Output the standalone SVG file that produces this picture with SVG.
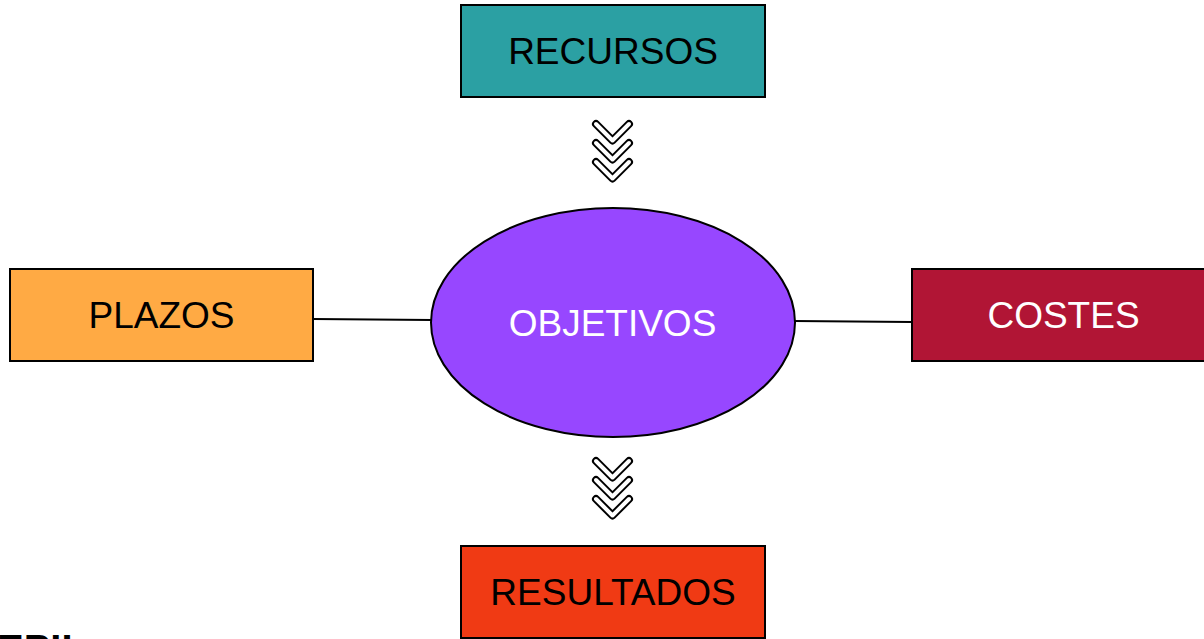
<svg xmlns="http://www.w3.org/2000/svg" width="1204" height="639" viewBox="0 0 1204 639">
<style>
.box{stroke:#000;stroke-width:2}
.lbl{font-family:"Liberation Sans",Arial,sans-serif;font-size:37px;text-anchor:middle}
.chev-o{fill:none;stroke:#000;stroke-width:8;stroke-linecap:round;stroke-linejoin:round}
.chev-i{fill:none;stroke:#fff;stroke-width:4;stroke-linecap:round;stroke-linejoin:round}
.conn{stroke:#000;stroke-width:2;fill:none}
</style>
<defs>
<g id="chev">
<polyline class="chev-o" points="-16.5,0 0,16.5 16.5,0"/>
<polyline class="chev-i" points="-16.5,0 0,16.5 16.5,0"/>
</g>
<g id="chevs">
<use href="#chev" x="0" y="0"/>
<use href="#chev" x="0" y="19"/>
<use href="#chev" x="0" y="38"/>
</g>
</defs>
<rect width="1204" height="639" fill="#fff"/>
<g id="connectors">
<line class="conn" x1="313" y1="319" x2="432" y2="320"/>
<line class="conn" x1="794" y1="321" x2="912" y2="322"/>
<use href="#chevs" x="612.5" y="124"/>
<use href="#chevs" x="612.5" y="461"/>
</g>
<g id="recursos">
<rect class="box" x="461" y="5" width="304" height="92" fill="#2BA0A3"/>
<text class="lbl" x="613" y="64" fill="#000">RECURSOS</text>
</g>
<g id="plazos">
<rect class="box" x="10" y="269" width="303" height="92" fill="#FFAA44"/>
<text class="lbl" x="161.5" y="328" fill="#000">PLAZOS</text>
</g>
<g id="costes">
<rect class="box" x="912" y="269" width="300" height="92" fill="#B11535"/>
<text class="lbl" x="1063.5" y="328" fill="#fff">COSTES</text>
</g>
<g id="objetivos">
<ellipse class="box" cx="613" cy="322.5" rx="182" ry="114.5" fill="#9747FF"/>
<text class="lbl" x="612.5" y="336" fill="#fff">OBJETIVOS</text>
</g>
<g id="resultados">
<rect class="box" x="461" y="546" width="304" height="92" fill="#F03A14"/>
<text class="lbl" x="613" y="605" fill="#000">RESULTADOS</text>
</g>
<text x="-3" y="663" font-family="Liberation Sans,Arial,sans-serif" font-weight="bold" font-size="40" fill="#000">EPII</text>
</svg>
